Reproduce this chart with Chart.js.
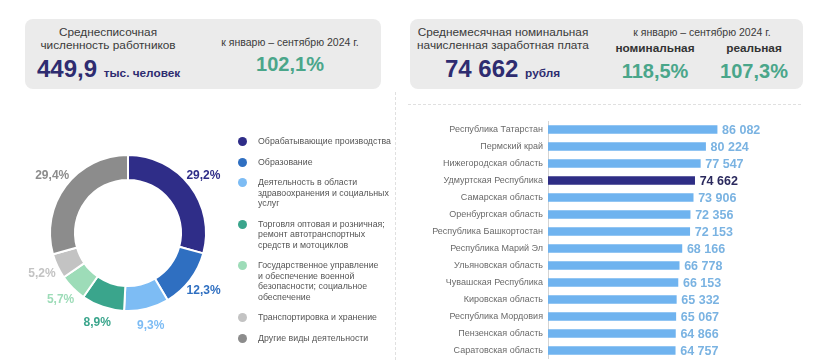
<!DOCTYPE html>
<html>
<head>
<meta charset="utf-8">
<script src="https://cdn.jsdelivr.net/npm/chart.js@4.4.1/dist/chart.umd.min.js"></script>
<style>
  body { margin: 0; width: 823px; height: 360px; background: #fff; position: relative; overflow: hidden;
         font-family: "Liberation Sans", Arial, sans-serif; color: #3a3a3a; }
  .box { position: absolute; background: #ebebeb; border-radius: 8px; }
  .t { position: absolute; white-space: nowrap; }
  .c { text-align: center; }
  .cap { font-size: 11.8px; line-height: 12.5px; color: #3a3a3a; }
  .period { font-size: 10.5px; line-height: 12px; color: #3a3a3a; }
  .big { font-size: 24px; line-height: 24px; font-weight: bold; color: #2e2c70; }
  .unit { font-size: 11.8px; font-weight: bold; color: #2e2c70; }
  .pct { font-size: 20px; line-height: 20px; font-weight: bold; color: #4aa68a; }
  .hd { font-size: 11.8px; line-height: 14px; font-weight: bold; color: #333; }
  .vsep { position: absolute; left: 395px; top: 92px; height: 268px; border-left: 1px dashed #e0e0e0; }
  .hsep { position: absolute; left: 408px; top: 104px; width: 393px; border-top: 1px dashed #e0e0e0; }
  #legend { position: absolute; left: 238px; top: 136px; display: flex; flex-direction: column; gap: 10px; }
  .li { display: flex; align-items: flex-start; font-size: 8.8px; line-height: 10.5px; color: #555; white-space: pre-line; }
  .dot { width: 9px; height: 9px; border-radius: 50%; margin: 1px 11px 0 0; flex: none; }
</style>
</head>
<body>
<div class="box" style="left:25px;top:19px;width:356px;height:70px"></div>
<div class="box" style="left:410px;top:19px;width:393px;height:70px"></div>

<div class="t c cap" style="left:28px;top:26px;width:160px">Среднесписочная<br>численность работников</div>
<div class="t big" style="left:37px;top:57px"><span id="workers"></span> <span class="unit">тыс. человек</span></div>
<div class="t c period" style="left:200px;top:36px;width:180px">к январю – сентябрю 2024 г.</div>
<div class="t c pct" id="workersIdx" style="left:230px;top:54px;width:120px"></div>

<div class="t c cap" style="left:413px;top:26px;width:180px">Среднемесячная номинальная<br>начисленная заработная плата</div>
<div class="t big" style="left:445px;top:57px"><span id="wage"></span> <span class="unit">рубля</span></div>
<div class="t c period" style="left:612px;top:26px;width:180px">к январю – сентябрю 2024 г.</div>
<div class="t c hd" style="left:595px;top:41px;width:120px">номинальная</div>
<div class="t c hd" style="left:694px;top:41px;width:120px">реальная</div>
<div class="t c pct" id="nominalIdx" style="left:595px;top:61px;width:120px"></div>
<div class="t c pct" id="realIdx" style="left:694px;top:61px;width:120px"></div>

<div class="vsep"></div>
<div class="hsep"></div>

<div style="position:absolute;left:3px;top:108px;width:250px;height:250px">
  <canvas id="pie" width="250" height="250"></canvas>
</div>
<div id="legend"></div>

<div style="position:absolute;left:400px;top:121px;width:423px;height:238px">
  <canvas id="bars" width="423" height="238"></canvas>
</div>

<script>
// header figures
const workersTotal = '449,9';
const workersIndex = '102,1%';
const wageTotal = '74 662';
const wageNominalIndex = '118,5%';
const wageRealIndex = '107,3%';

// employment by sector, %
const sectors = [
  'Обрабатывающие производства',
  'Образование',
  'Деятельность в области\nздравоохранения и социальных\nуслуг',
  'Торговля оптовая и розничная;\nремонт автотранспортных\nсредств и мотоциклов',
  'Государственное управление\nи обеспечение военной\nбезопасности; социальное\nобеспечение',
  'Транспортировка и хранение',
  'Другие виды деятельности'
];
const sectorShares = [29.2, 12.3, 9.3, 8.9, 5.7, 5.2, 29.4];
const sectorColors = ['#2f2d88', '#2f6fc1', '#7dbcf4', '#3aa58c', '#9ddcb8', '#c3c3c3', '#8c8c8c'];

// average monthly wage by region, rub
const regions = [
  'Республика Татарстан', 'Пермский край', 'Нижегородская область', 'Удмуртская Республика',
  'Самарская область', 'Оренбургская область', 'Республика Башкортостан', 'Республика Марий Эл',
  'Ульяновская область', 'Чувашская Республика', 'Кировская область', 'Республика Мордовия',
  'Пензенская область', 'Саратовская область'
];
const wages = [86082, 80224, 77547, 74662, 73906, 72356, 72153, 68166, 66778, 66153, 65332, 65067, 64866, 64757];
const homeRegion = 'Удмуртская Республика';

document.getElementById('workers').textContent = workersTotal;
document.getElementById('workersIdx').textContent = workersIndex;
document.getElementById('wage').textContent = wageTotal;
document.getElementById('nominalIdx').textContent = wageNominalIndex;
document.getElementById('realIdx').textContent = wageRealIndex;

// html legend, the labels carry their own line breaks
const legend = document.getElementById('legend');
sectors.forEach((name, i) => {
  const row = document.createElement('div');
  row.className = 'li';
  row.innerHTML = `<span class="dot" style="background:${sectorColors[i]}"></span><span></span>`;
  row.lastChild.textContent = name;
  legend.appendChild(row);
});

const fmt = v => String(v).replace(/\B(?=(\d{3})+(?!\d))/g, ' ');
const fmtPct = v => v.toFixed(1).replace('.', ',') + '%';

// percent labels around the ring
const ringLabels = {
  id: 'ringLabels',
  afterDatasetsDraw(chart) {
    const ctx = chart.ctx;
    const meta = chart.getDatasetMeta(0);
    ctx.save();
    ctx.font = 'bold 12px "Liberation Sans", Arial, sans-serif';
    ctx.textAlign = 'center';
    ctx.textBaseline = 'middle';
    meta.data.forEach((arc, i) => {
      const mid = (arc.startAngle + arc.endAngle) / 2;
      const r = arc.outerRadius + 17;
      ctx.fillStyle = sectorColors[i];
      ctx.fillText(fmtPct(sectorShares[i]), arc.x + Math.cos(mid) * r, arc.y + Math.sin(mid) * r);
    });
    ctx.restore();
  }
};

new Chart(document.getElementById('pie'), {
  type: 'doughnut',
  data: {
    labels: sectors,
    datasets: [{
      data: sectorShares,
      backgroundColor: sectorColors,
      borderColor: '#fff',
      borderWidth: 2
    }]
  },
  options: {
    responsive: false,
    animation: false,
    cutout: '68%',
    layout: { padding: 46 },
    plugins: { legend: { display: false }, tooltip: { enabled: false } }
  },
  plugins: [ringLabels]
});

// wage figures after each bar
const barValues = {
  id: 'barValues',
  afterDatasetsDraw(chart) {
    const ctx = chart.ctx;
    const meta = chart.getDatasetMeta(0);
    ctx.save();
    ctx.font = 'bold 12.5px "Liberation Sans", Arial, sans-serif';
    ctx.textBaseline = 'middle';
    meta.data.forEach((bar, i) => {
      ctx.fillStyle = regions[i] === homeRegion ? '#2b2a5e' : '#7ab3e2';
      ctx.fillText(fmt(wages[i]), bar.x + 5, bar.y + 1);
    });
    ctx.restore();
  }
};

new Chart(document.getElementById('bars'), {
  type: 'bar',
  data: {
    labels: regions,
    datasets: [{
      data: wages,
      backgroundColor: regions.map(r => r === homeRegion ? '#2e2d85' : '#6fb3ef'),
      barThickness: 8
    }]
  },
  options: {
    indexAxis: 'y',
    responsive: false,
    animation: false,
    layout: { padding: 0 },
    scales: {
      x: { display: false, min: 0, max: 140000 },
      y: {
        grid: { display: false, drawTicks: false },
        border: { color: '#d4d4d4' },
        afterFit: scale => {
          scale.width = 148;
          scale.paddingTop = 0;
          scale.paddingBottom = 0;
        },
        ticks: {
          color: '#6a6a6a',
          padding: 5,
          font: { size: 9, family: '"Liberation Sans", Arial, sans-serif' }
        }
      }
    },
    plugins: { legend: { display: false }, tooltip: { enabled: false } }
  },
  plugins: [barValues]
});
</script>
</body>
</html>
